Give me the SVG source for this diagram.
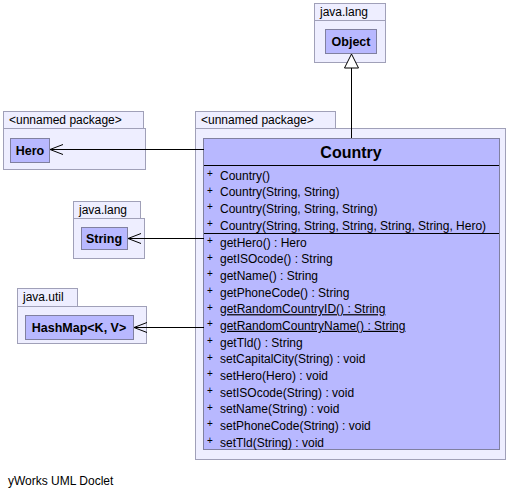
<svg xmlns="http://www.w3.org/2000/svg" width="509" height="497" viewBox="0 0 509 497">
<style>
text{font-family:"Liberation Sans",Arial,sans-serif;fill:#000}
.pkg{fill:#eeeeff;stroke:#a0a0b8;stroke-width:1}
.cls{fill:#b8b8ff;stroke:#8080a0;stroke-width:1}
.pl{font-size:12px}
.cn{font-size:12.5px;font-weight:bold}
.m{font-size:12px}
.p{font-size:10px}
.u{text-decoration:underline}
.edge{stroke:#000;stroke-width:1;fill:none}
</style>
<defs>
<marker id="open" viewBox="-15 -7 16 14" refX="0" refY="0" markerWidth="16" markerHeight="14" orient="auto" markerUnits="userSpaceOnUse">
<path d="M-13,-5 L0,0 L-13,5" fill="none" stroke="#000" stroke-width="1"/>
</marker>
<marker id="tri" viewBox="-16 -8 17 16" refX="0" refY="0" markerWidth="17" markerHeight="16" orient="auto" markerUnits="userSpaceOnUse">
<path d="M-14,-7 L0,0 L-14,7 Z" fill="#fff" stroke="#000" stroke-width="1"/>
</marker>
</defs>
<rect width="509" height="497" fill="#fff"/>

<g id="pkg-object">
<rect class="pkg" x="314.5" y="3.5" width="71" height="17"/>
<rect class="pkg" x="314.5" y="20.5" width="71" height="42"/>
<text class="pl" x="320" y="16">java.lang</text>
</g>
<g id="Object">
<rect class="cls" x="325.5" y="29.5" width="51" height="24"/>
<text class="cn" x="351" y="46" text-anchor="middle">Object</text>
</g>

<g id="pkg-hero">
<rect class="pkg" x="3.5" y="111.5" width="140" height="17"/>
<rect class="pkg" x="3.5" y="128.5" width="142" height="41"/>
<text class="pl" x="9" y="124">&lt;unnamed package&gt;</text>
</g>
<g id="Hero">
<rect class="cls" x="10.5" y="138.5" width="39" height="24"/>
<text class="cn" x="30" y="155" text-anchor="middle">Hero</text>
</g>

<g id="pkg-string">
<rect class="pkg" x="73.5" y="201.5" width="67" height="17"/>
<rect class="pkg" x="73.5" y="218.5" width="71" height="40"/>
<text class="pl" x="79" y="214">java.lang</text>
</g>
<g id="String">
<rect class="cls" x="81.5" y="227.5" width="46" height="22"/>
<text class="cn" x="104" y="243" text-anchor="middle">String</text>
</g>

<g id="pkg-hashmap">
<rect class="pkg" x="17.5" y="288.5" width="60" height="18"/>
<rect class="pkg" x="17.5" y="306.5" width="129" height="37"/>
<text class="pl" x="23" y="301">java.util</text>
</g>
<g id="HashMap">
<rect class="cls" x="25.5" y="315.5" width="108" height="24"/>
<text class="cn" x="79" y="332" text-anchor="middle">HashMap&lt;K, V&gt;</text>
</g>

<g id="pkg-country">
<rect class="pkg" x="195.5" y="111.5" width="140" height="17"/>
<rect class="pkg" x="195.5" y="128.5" width="310" height="331"/>
<text class="pl" x="201" y="124">&lt;unnamed package&gt;</text>
</g>
<g id="Country">
<rect class="cls" x="203.5" y="138.5" width="296" height="311"/>
<text x="351" y="158" text-anchor="middle" font-size="16" font-weight="bold">Country</text>
<line x1="204" y1="165.5" x2="499" y2="165.5" stroke="#000"/>
<line x1="204" y1="233.5" x2="499" y2="233.5" stroke="#000"/>
<g class="m">
<text class="p" x="207" y="177">+</text><text x="220" y="179.5">Country()</text>
<text class="p" x="207" y="193.7">+</text><text x="220" y="196.2">Country(String, String)</text>
<text class="p" x="207" y="210.3">+</text><text x="220" y="212.8">Country(String, String, String)</text>
<text class="p" x="207" y="227">+</text><text x="220" y="229.5">Country(String, String, String, String, String, Hero)</text>
<text class="p" x="207" y="244">+</text><text x="220" y="246.5">getHero() : Hero</text>
<text class="p" x="207" y="260.7">+</text><text x="220" y="263.2">getISOcode() : String</text>
<text class="p" x="207" y="277.3">+</text><text x="220" y="279.8">getName() : String</text>
<text class="p" x="207" y="294">+</text><text x="220" y="296.5">getPhoneCode() : String</text>
<text class="p" x="207" y="310.7">+</text><text class="u" x="220" y="313.2">getRandomCountryID() : String</text>
<text class="p" x="207" y="327.3">+</text><text class="u" x="220" y="329.8">getRandomCountryName() : String</text>
<text class="p" x="207" y="344">+</text><text x="220" y="346.5">getTld() : String</text>
<text class="p" x="207" y="360.7">+</text><text x="220" y="363.2">setCapitalCity(String) : void</text>
<text class="p" x="207" y="377.3">+</text><text x="220" y="379.8">setHero(Hero) : void</text>
<text class="p" x="207" y="394">+</text><text x="220" y="396.5">setISOcode(String) : void</text>
<text class="p" x="207" y="410.7">+</text><text x="220" y="413.2">setName(String) : void</text>
<text class="p" x="207" y="427.3">+</text><text x="220" y="429.8">setPhoneCode(String) : void</text>
<text class="p" x="207" y="444">+</text><text x="220" y="446.5">setTld(String) : void</text>
</g>
</g>

<g id="connectors">
<line class="edge" x1="351.5" y1="138" x2="351.5" y2="54" marker-end="url(#tri)"/>
<line class="edge" x1="204" y1="149.5" x2="50" y2="149.5" marker-end="url(#open)"/>
<line class="edge" x1="204" y1="238.5" x2="128" y2="238.5" marker-end="url(#open)"/>
<line class="edge" x1="204" y1="327.5" x2="134" y2="327.5" marker-end="url(#open)"/>
</g>

<text x="8" y="485" font-size="12">yWorks UML Doclet</text>
</svg>
